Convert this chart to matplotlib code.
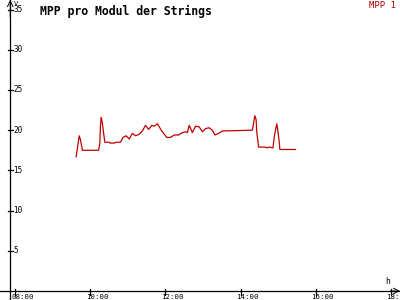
import matplotlib.pyplot as plt
import numpy as np

# minutes since midnight and MPP values (V)
minutes = [577, 582, 584, 587, 613, 615, 616, 617, 619, 621, 623, 630, 631, 639, 640,
           648, 652, 657, 662, 667, 672, 678, 683, 688, 693, 698, 702, 707, 714, 722,
           728, 734, 741, 747, 752, 755, 758, 763, 768, 774, 779, 784, 790, 795, 799,
           805, 811, 859, 861, 863, 865, 866, 869, 871, 880, 883, 886, 892, 894, 898,
           900, 902, 903, 928]
values = [16.7, 19.3, 18.8, 17.5, 17.5, 18.4, 20.6, 21.6, 20.9, 19.6, 18.5, 18.5, 18.4, 18.4, 18.5,
          18.5, 19.1, 19.3, 18.9, 19.6, 19.3, 19.5, 19.9, 20.6, 20.1, 20.6, 20.5, 20.8, 19.9, 19.1,
          19.1, 19.4, 19.4, 19.7, 19.8, 19.7, 20.6, 19.7, 20.5, 20.4, 19.8, 20.2, 20.3, 20.0, 19.4,
          19.6, 19.9, 20.0, 20.9, 21.8, 21.3, 19.8, 17.9, 17.9, 17.9, 17.8, 17.9, 17.8, 19.2, 20.8,
          19.8, 18.5, 17.6, 17.6]
hour_ticks = [8, 10, 12, 14, 16, 18]
hour_labels = ["08:00", "10:00", "12:00", "14:00", "16:00", "18:"]
volt_ticks = [5, 10, 15, 20, 25, 30, 35]

hours = np.array(minutes) / 60.0

fig = plt.figure(figsize=(4, 3), dpi=100)
ax = fig.add_axes([0, 0, 1, 1])
ax.set_xlim(7.587, 18.253)
ax.set_ylim(-1.12, 36.19)
ax.axis('off')

mono = 'DejaVu Sans Mono'
yax = 7.86  # position of y axis in hours

# axes lines
ax.axvline(yax, color='black', lw=0.9)
ax.axhline(0, color='black', lw=0.9)
ax.annotate('', xy=(18.253, 0), xytext=(18.0, 0),
            arrowprops=dict(arrowstyle='->', color='black', lw=0.7, shrinkA=0, shrinkB=0))
ax.annotate('', xy=(yax, 36.19), xytext=(yax, 34.0),
            arrowprops=dict(arrowstyle='->', color='black', lw=0.7, shrinkA=0, shrinkB=0))

# ticks
for h, lab in zip(hour_ticks, hour_labels):
    ax.plot([h, h], [-0.5, 0.25], color='black', lw=0.9)
    ax.text(h - 0.11, -1.08, lab, ha='left', va='bottom', fontsize=5.3, family=mono)
for v in volt_ticks:
    ax.plot([yax - 0.07, yax + 0.07], [v, v], color='black', lw=0.9)
    ax.text(yax + 0.09, v, str(v), ha='left', va='center', fontsize=5.5, family=mono)

ax.text(yax + 0.1, 36.1, 'V', ha='left', va='top', fontsize=5, family=mono)
ax.text(17.85, 0.6, 'h', ha='left', va='bottom', fontsize=5.8, family=mono)

ax.plot(hours, values, color='#c00000', lw=0.9)

fig.text(0.1, 0.985, 'MPP pro Modul der Strings', ha='left', va='top',
         fontsize=8.3, family=mono, fontweight='bold')
fig.text(0.99, 0.995, 'MPP 1', ha='right', va='top', fontsize=6.5, family=mono,
         color='#b00000')

fig.savefig('out.png', dpi=100)
